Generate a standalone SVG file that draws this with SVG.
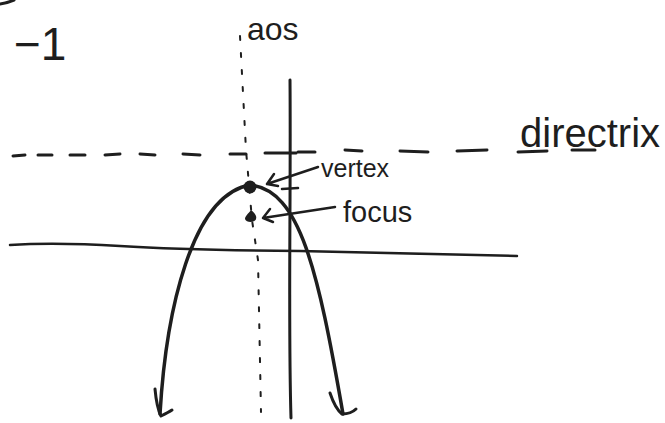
<svg xmlns="http://www.w3.org/2000/svg" width="665" height="423" viewBox="0 0 665 423">
<defs>
<style>
.ink{fill:none;stroke:#1e1e1e;stroke-linecap:round;stroke-linejoin:round}
.lbl{font-family:"Liberation Sans",Arial,sans-serif;fill:#1e1e1e}
</style>
</defs>
<rect width="665" height="423" fill="#ffffff"/>
<path class="ink" d="M0,4 Q7,3 14,0" stroke-width="3"/>
<g id="label-minus-one"><text class="lbl" x="14" y="60" font-size="46">−1</text></g>
<g id="connectors">
<path id="aos" class="ink" d="M240,36 L246,150 L252,220 L258,260 L261,412" stroke-width="2" stroke-dasharray="4 13"/>
<path id="y-axis" class="ink" d="M290,80 C291,200 288,320 291,418" stroke-width="3"/>
<path id="x-axis" class="ink" d="M10,245 Q55,242 120,246 T300,251 L517,256" stroke-width="2.5"/>
<path id="directrix" class="ink" stroke-width="3" d="M13,156 L25,155 M38,155 L52,155 M70,155 L85,155 M105,155 L120,154 M140,154 L155,155 M183,154 L200,155 M230,154 L246,154 M265,153 L296,153 M298,152 L315,152 M345,150 L362,151 M400,151 L428,152 M457,151 L487,150 M518,152 L547,151 M572,150 L595,150"/>
<path id="tick" class="ink" d="M282,189 L298,188" stroke-width="2.5"/>
<path id="parabola" class="ink" d="M160,414 C166,310 192,195 250,185 C300,190 318,270 343,414" stroke-width="3.5"/>
<path class="ink" d="M155,389 C156,400 158,410 161,416 C165,414 169,412 172,410" stroke-width="3"/>
<path class="ink" d="M330,393 C333,402 337,410 342,414 C348,414 353,412 356,409" stroke-width="3"/>
<path id="vertex-arrow" class="ink" d="M318,167 L267,184 M274,174 L267,184 L278,186" stroke-width="2.5"/>
<path id="focus-arrow" class="ink" d="M335,207 L263,218 M270,209 L263,218 L273,222" stroke-width="2.5"/>
</g>
<g id="vertex"><circle cx="250" cy="187" r="6.5" fill="#1e1e1e"/></g>
<g id="focus"><path d="M251,210 C255,213 257,216 256,219 C255,223 246,223 245,219 C245,216 248,214 251,210 Z" fill="#1e1e1e"/></g>
<g id="label-aos"><text class="lbl" x="247" y="40" font-size="32">aos</text></g>
<g id="label-vertex"><text class="lbl" x="321" y="177" font-size="25">vertex</text></g>
<g id="label-focus"><text class="lbl" x="343" y="222" font-size="29">focus</text></g>
<g id="label-directrix"><text class="lbl" x="520" y="147" font-size="40">directrix</text></g>
</svg>
